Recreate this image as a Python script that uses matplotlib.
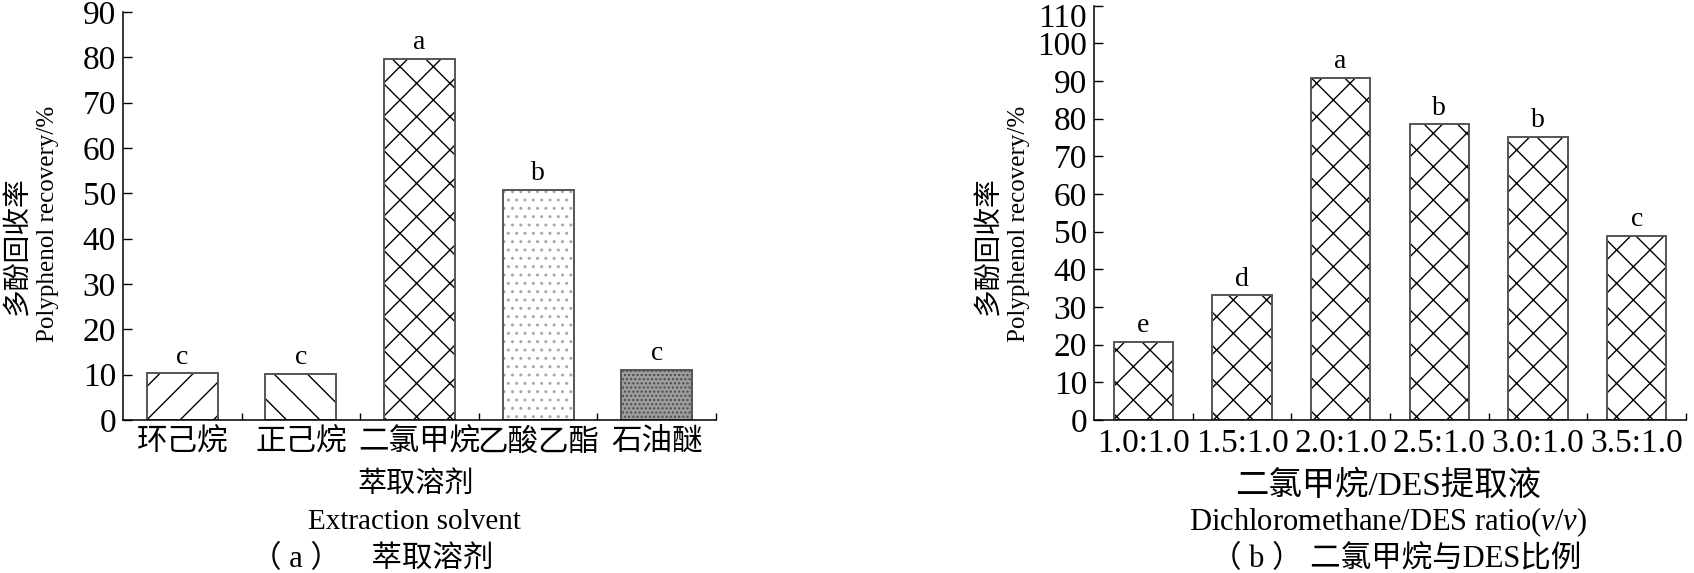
import matplotlib.pyplot as plt
import matplotlib.transforms as mtransforms
import numpy as np

plt.rcParams['font.family'] = ['Liberation Serif', 'Noto Sans CJK SC']
plt.rcParams['mathtext.fontset'] = 'custom'
plt.rcParams['mathtext.rm'] = 'Liberation Serif'
plt.rcParams['mathtext.it'] = 'Liberation Serif:italic'
plt.rcParams['hatch.linewidth'] = 1.0

# panel (a): extraction solvent
solvents = ['环己烷', '正己烷', '二氯甲烷', '乙酸乙酯', '石油醚']
solvent_recovery = [10.3, 10.2, 79.7, 50.8, 11.0]
solvent_letters = ['c', 'c', 'a', 'b', 'c']

# panel (b): dichloromethane / DES ratio
ratios = ['1.0:1.0', '1.5:1.0', '2.0:1.0', '2.5:1.0', '3.0:1.0', '3.5:1.0']
ratio_recovery = [20.8, 33.1, 90.8, 78.5, 75.2, 48.9]
ratio_letters = ['e', 'd', 'a', 'b', 'b', 'c']

W, H = 1694, 573


def fx(px):
    return px / W


def fy(py):
    return 1 - py / H


def draw_panel(ax, labels, values, letters, faces, hatches, hatch_colors, ymax, xsize):
    x = np.arange(len(values))
    # hatch layer (hatch takes the edge colour), then the outline on top
    fills = ax.bar(x, values, width=0.6, color=faces, edgecolor=hatch_colors, linewidth=0)
    for p, h in zip(fills.patches, hatches):
        p.set_hatch(h)
    ax.bar(x, values, width=0.6, fill=False, edgecolor='#555555', linewidth=1.4)
    for xi, v, t in zip(x, values, letters):
        ax.annotate(t, (xi, v), xytext=(0, 7), textcoords='offset points',
                    ha='center', va='baseline', fontsize=20)
    ax.set_xlim(-0.5, len(values) - 0.5)
    ax.set_ylim(0, ymax)
    ax.set_yticks(np.arange(0, ymax + 1, 10))
    ax.set_xticks(x)
    ax.set_xticklabels(labels)
    ax.set_xticks(np.arange(0.5, len(values), 1.0), minor=True)
    ax.tick_params(axis='y', direction='in', length=6.5, width=1.0, labelsize=24, pad=5)
    ax.tick_params(axis='x', which='major', length=0, labelsize=xsize, pad=6)
    ax.tick_params(axis='x', which='minor', direction='in', length=5, width=1.0)
    for s in ['top', 'right']:
        ax.spines[s].set_visible(False)
    for s in ['left', 'bottom']:
        ax.spines[s].set_linewidth(1.1)


fig = plt.figure(figsize=(W / 100, H / 100), dpi=100)

ax0 = fig.add_axes([fx(123), fy(420), fx(716) - fx(123), fy(12) - fy(420)])
draw_panel(ax0, solvents, solvent_recovery, solvent_letters,
           ['white', 'white', 'white', 'white', '#9c9c9c'],
           ['/', '\\', 'x', '..', '....'],
           ['black', 'black', 'black', '#a8a8a8', '#4a4a4a'], 90, 22)

ax1 = fig.add_axes([fx(1094), fy(420), fx(1686) - fx(1094), fy(5.7) - fy(420)])
draw_panel(ax1, ratios, ratio_recovery, ratio_letters,
           ['white'] * 6, ['x'] * 6, ['black'] * 6, 110, 24)

# the top label of panel (b) sits a little below its tick, as in the source
top_label = ax1.get_yticklabels()[-1]
top_label.set_transform(top_label.get_transform() +
                        mtransforms.ScaledTranslation(0, -7 / 72, fig.dpi_scale_trans))

# y labels, two lines each
for x0 in (0, 971):
    fig.text(fx(x0 + 19), fy(246), '多酚回收率', rotation=90, ha='center', va='center', fontsize=20)
    fig.text(fx(x0 + 48), fy(224), 'Polyphenol recovery/%', rotation=90, ha='center', va='center', fontsize=18)

# x labels and captions
fig.text(fx(416), fy(485), '萃取溶剂', ha='center', va='center', fontsize=21)
fig.text(fx(414), fy(522), 'Extraction solvent', ha='center', va='center', fontsize=21)
fig.text(fx(372), fy(560), '（ a ）\u3000萃取溶剂', ha='center', va='center', fontsize=22)

fig.text(fx(1388), fy(486), '二氯甲烷/DES提取液', ha='center', va='center', fontsize=24)
fig.text(fx(1388), fy(522), r'Dichloromethane/DES ratio($\mathit{v}$/$\mathit{v}$)',
         ha='center', va='center', fontsize=22)
fig.text(fx(1396), fy(560), '（ b ） 二氯甲烷与DES比例', ha='center', va='center', fontsize=22)

fig.savefig('out.png', dpi=100)
